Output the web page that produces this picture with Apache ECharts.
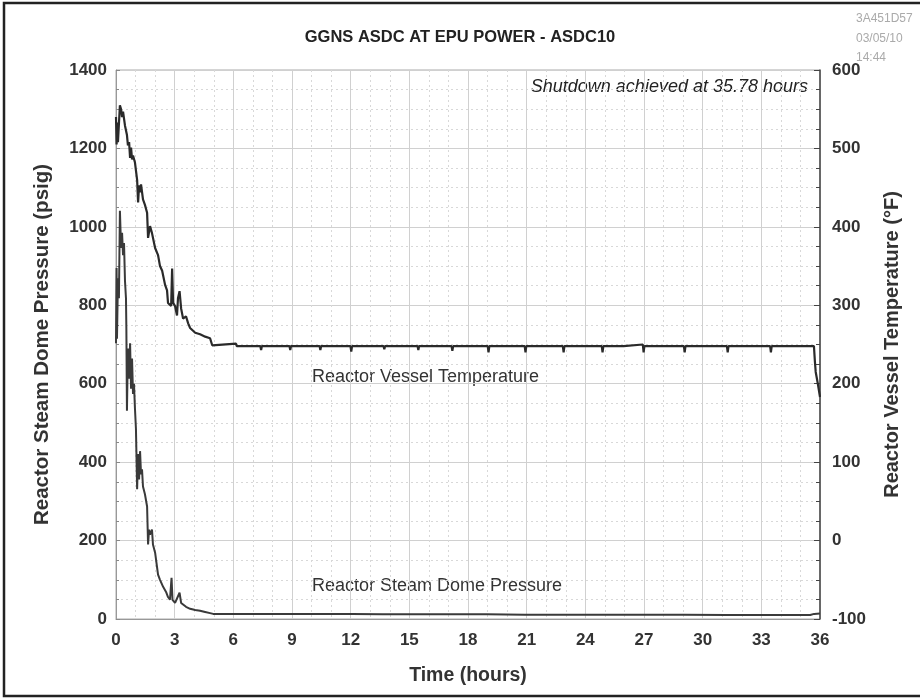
<!DOCTYPE html>
<html>
<head>
<meta charset="utf-8">
<script src="https://cdn.jsdelivr.net/npm/echarts@6/dist/echarts.min.js"></script>
<style>
html,body{margin:0;padding:0;background:#fff;}
#chart{width:920px;height:700px;}
</style>
</head>
<body>
<div id="chart"></div>
<script>
// ---- Data ----
var titleText = 'GGNS ASDC AT EPU POWER - ASDC10';
var stampLines = ['3A451D57', '03/05/10', '14:44'];
var xTicks = [0, 3, 6, 9, 12, 15, 18, 21, 24, 27, 30, 33, 36];
var pressureTicks = [0, 200, 400, 600, 800, 1000, 1200, 1400];
var tempTicks = [-100, 0, 100, 200, 300, 400, 500, 600];

// Reactor Vessel Temperature (°F) vs time (hours)
var tempHours = [0.00,0.03,0.08,0.10,0.20,0.26,0.31,0.36,0.46,0.56,0.61,0.67,0.72,0.77,0.82,0.87,0.97,1.08,1.13,1.18,1.23,1.28,1.38,1.48,1.59,1.64,1.74,1.84,2.00,2.15,2.25,2.36,2.51,2.61,2.66,2.76,2.82,2.87,2.92,3.02,3.12,3.17,3.25,3.33,3.43,3.58,3.69,3.79,4.05,4.30,4.56,4.81,4.86,4.92,4.97,6.14,6.17,
  7.38,7.42,7.46,8.87,8.91,8.95,10.41,10.45,10.49,11.99,12.03,12.07,13.68,13.72,13.76,15.42,15.46,15.50,17.16,17.20,17.24,19.01,19.05,19.09,20.90,20.94,20.98,22.85,22.89,22.93,24.84,24.88,24.92,25.96,25.98,26.94,26.98,27.02,29.04,29.08,29.12,31.24,31.28,31.32,33.45,33.49,33.53,35.69,35.74,35.78,35.89,36.00];
var tempF = [540,505,533,508,555,550,540,547,529,517,504,508,488,501,486,491,482,460,431,453,444,454,435,428,418,386,401,392,373,364,350,344,326,319,303,305,299,347,303,299,287,309,318,296,283,286,277,271,265,263,260,258,256,249,251,251,248,
  248,243,248,248,243,248,248,243,248,248,241,248,248,244,248,248,243,248,248,242,248,248,240,248,248,240,248,248,240,248,248,240,248,248,250,250,240,248,248,240,248,248,240,248,248,240,248,248,228,215,200,183];

// Reactor Steam Dome Pressure (psig) vs time (hours)
var pressHours = [0.00,0.03,0.05,0.10,0.15,0.20,0.26,0.31,0.36,0.41,0.46,0.51,0.53,0.56,0.61,0.67,0.72,0.77,0.82,0.87,0.92,0.97,1.02,1.08,1.13,1.18,1.23,1.28,1.33,1.38,1.48,1.59,1.64,1.69,1.74,1.84,1.89,2.00,2.15,2.25,2.41,2.56,2.66,2.76,2.84,2.89,3.02,3.12,3.25,3.33,3.43,3.58,3.79,4.05,4.30,4.56,4.81,4.97,
  6.08,6.12,6.16,7.43,7.47,7.51,8.86,8.90,8.94,10.41,10.45,10.49,12.04,12.08,12.12,13.63,13.67,13.71,15.42,15.46,15.50,17.16,17.20,17.24,18.96,19.00,19.04,20.90,20.94,20.98,22.85,22.89,22.93,24.84,24.88,24.92,26.94,26.98,27.02,29.04,29.08,29.12,31.24,31.28,31.32,33.45,33.49,33.53,35.50,35.70,36.00];
var pressPsig = [703,895,715,869,818,1041,946,985,928,959,862,818,741,531,690,613,703,587,664,574,600,536,485,331,421,356,428,369,382,338,318,287,190,228,215,228,190,169,113,100,82,69,56,49,105,49,41,36,67,41,38,31,26,23,21,18,15,13,
  13,9,13,13,9,13,13,9,13,13,9,13,13,9,13,12,8,12,12,8,12,12,8,12,12,8,12,11,7,11,11,7,11,11,7,11,11,7,11,11,7,11,10,6,10,10,6,10,10,13,14];

// ---- Build series data from the arrays ----
function pairs(xs, ys){ var out=[]; for (var i=0;i<xs.length;i++) out.push([xs[i], ys[i]]); return out; }

var FF = 'Liberation Sans, Arial, sans-serif';
var tickFont = {fontFamily:FF, fontWeight:'bold', fontSize:17, color:'#333'};
var chart = echarts.init(document.getElementById('chart'), null, {renderer:'canvas'});
chart.setOption({
  backgroundColor:'#fff',
  animation:false,
  grid:{left:116, right:100, top:70, bottom:81, show:true, borderColor:'#aaa', borderWidth:1, containLabel:false},
  xAxis:{
    type:'value', min:0, max:36, interval:3,
    name:'Time (hours)', nameLocation:'middle', nameGap:47,
    nameTextStyle:{fontFamily:FF, fontWeight:'bold', fontSize:19.5, color:'#333'},
    axisLine:{show:true, lineStyle:{color:'#999', width:1}},
    axisTick:{show:false},
    minorTick:{show:false, splitNumber:3},
    axisLabel:Object.assign({margin:13, formatter:function(v){return xTicks.indexOf(v)>=0? String(v):'';}}, tickFont),
    splitLine:{show:true, lineStyle:{color:'#d0d0d0', width:1}},
    minorSplitLine:{show:true, lineStyle:{color:'#d8d8d8', width:1, type:[2,3]}}
  },
  yAxis:[{
    type:'value', min:0, max:1400, interval:200, position:'left',
    name:'Reactor Steam Dome Pressure (psig)', nameLocation:'middle', nameGap:63,
    nameTextStyle:{fontFamily:FF, fontWeight:'bold', fontSize:20.5, color:'#333'},
    axisLine:{show:true, lineStyle:{color:'#999', width:1}},
    axisTick:{show:true, inside:true, length:4, lineStyle:{color:'#888'}},
    minorTick:{show:true, splitNumber:4, length:3, lineStyle:{color:'#888'}},
    axisLabel:Object.assign({margin:9, formatter:function(v){return pressureTicks.indexOf(v)>=0? String(v):'';}}, tickFont),
    splitLine:{show:true, lineStyle:{color:'#d0d0d0', width:1}},
    minorSplitLine:{show:true, lineStyle:{color:'#d8d8d8', width:1, type:[2,3]}}
  },{
    type:'value', min:-100, max:600, interval:100, position:'right',
    name:'Reactor Vessel Temperature (°F)', nameLocation:'middle', nameGap:62, nameRotate:90,
    nameTextStyle:{fontFamily:FF, fontWeight:'bold', fontSize:20, color:'#333'},
    axisLine:{show:true, lineStyle:{color:'#444', width:1.5}},
    axisTick:{show:true, inside:true, length:6, lineStyle:{color:'#444'}},
    minorTick:{show:true, splitNumber:4, length:4, lineStyle:{color:'#444'}},
    axisLabel:Object.assign({margin:12, formatter:function(v){return tempTicks.indexOf(v)>=0? String(v):'';}}, tickFont),
    splitLine:{show:false}
  }],
  series:[{
    name:'Reactor Vessel Temperature', type:'line', yAxisIndex:1, showSymbol:false, symbol:'none',
    lineStyle:{color:'#2a2a2a', width:2.2}, data:pairs(tempHours, tempF), z:3
  },{
    name:'Reactor Steam Dome Pressure', type:'line', yAxisIndex:0, showSymbol:false, symbol:'none',
    lineStyle:{color:'#3a3a3a', width:2}, data:pairs(pressHours, pressPsig), z:3
  }],
  graphic:[
    {type:'rect', shape:{x:4, y:3, width:940, height:693}, style:{fill:'none', stroke:'#222', lineWidth:2.5}, silent:true},
    {type:'text', left:'center', top:29, style:{text:titleText, font:'bold 16.5px "Liberation Sans", Arial, sans-serif', fill:'#222'}},
    {type:'text', left:856, top:9, style:{text:stampLines.join('\n'), font:'12px "Liberation Sans", Arial, sans-serif', fill:'#aaa', lineHeight:19.5}},
    {type:'text', right:112, top:78, style:{text:'Shutdown achieved at 35.78 hours', font:'italic 18px "Liberation Sans", Arial, sans-serif', fill:'#222'}},
    {type:'text', left:312, top:368, style:{text:'Reactor Vessel Temperature', font:'18px "Liberation Sans", Arial, sans-serif', fill:'#333'}},
    {type:'text', left:312, top:577, style:{text:'Reactor Steam Dome Pressure', font:'18px "Liberation Sans", Arial, sans-serif', fill:'#333'}}
  ]
});
</script>
</body>
</html>
